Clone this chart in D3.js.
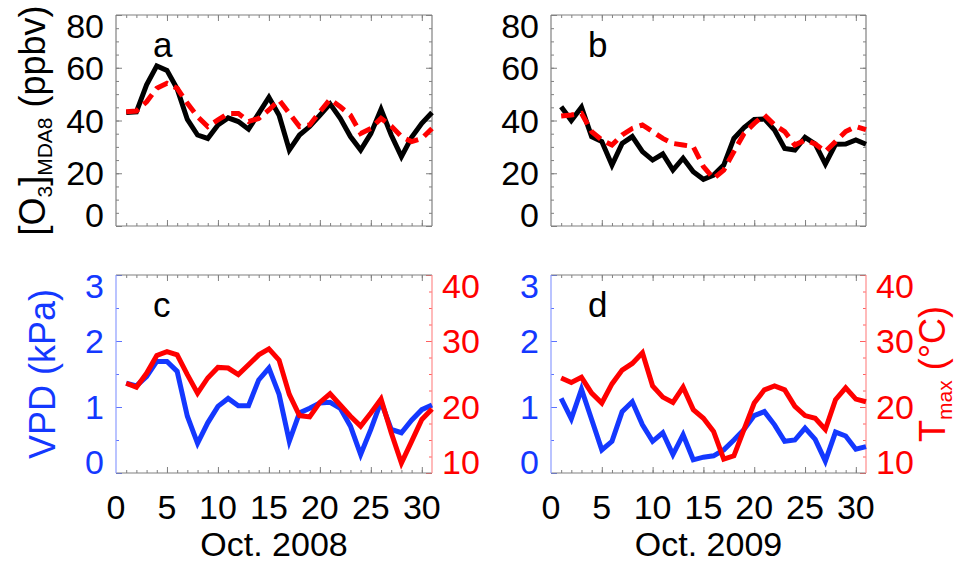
<!DOCTYPE html>
<html lang="en">
<head>
  <meta charset="UTF-8">
  <title>O3, VPD and Tmax in October</title>
  <style>
    body { margin: 0; background: #fff; }
    text { font-family: "Liberation Sans", Arial, Helvetica, sans-serif; }
  </style>
</head>
<body>
  <script src="https://d3js.org/d3.v7.min.js"></script>
  <script>
    const width = 959;
    const height = 567;

    // days of October
    const days = [1, 2, 3, 4, 5, 6, 7, 8, 9, 10, 11, 12, 13, 14, 15, 16,
                  17, 18, 19, 20, 21, 22, 23, 24, 25, 26, 27, 28, 29, 30, 31];

    // [O3] MDA8, black = observed, red dashed = second series
    const o3Obs2008 = [43, 43.3, 53.5, 60.7, 59, 52, 40.4, 34.5, 33.2, 38.3, 41, 39.6, 36.7, 42.7, 48.8, 42,
                       28.8, 34.5, 37.7, 42, 46.3, 40.8, 33.9, 28.8, 35, 44.2, 34.5, 26.3, 33.6, 38.9, 43];
    const o3Mod2008 = [43.3, 43.6, 47.1, 52.2, 54.1, 52.2, 46.5, 41.5, 37.7, 40.2, 42.7, 42.7, 39.6, 40.8, 44, 47.8,
                       42.7, 37.7, 38.3, 43.3, 48, 45.2, 42, 35.1, 37, 40.8, 37.9, 33.9, 32, 33.2, 37];
    const o3Obs2009 = [45.2, 40, 45, 33.9, 32, 23.1, 31.3, 33.9, 28.2, 25, 27.3, 21.2, 25.7, 20.6, 17.7, 19.3,
                       23.1, 33.2, 37.3, 40.4, 40.6, 36.4, 29.4, 28.8, 33.6, 31.1, 23.5, 31, 31.1, 32.6, 31];
    const o3Mod2009 = [41.7, 42.1, 42.7, 35.8, 32.6, 30.7, 34.5, 37, 38.3, 35.8, 33.2, 31.3, 30.7, 30.1, 22.5, 18,
                       21.2, 28.2, 35.1, 38.9, 42.1, 38.3, 35.8, 30.7, 32.6, 31.1, 28.2, 32, 35.8, 37.7, 36.5];

    // VPD (kPa) and Tmax (deg C)
    const vpd2008 = [1.36, 1.32, 1.46, 1.69, 1.69, 1.54, 0.86, 0.45, 0.76, 1.01, 1.13, 1.02, 1.02, 1.41, 1.59, 1.19,
                     0.48, 0.91, 0.98, 1.06, 1.07, 0.98, 0.71, 0.28, 0.66, 1.08, 0.66, 0.61, 0.8, 0.96, 1.03];
    const tmax2008 = [23.6, 23, 25.1, 27.8, 28.4, 27.9, 24.9, 22.1, 24.4, 26, 25.9, 24.9, 26.4, 27.9, 28.8, 27.1,
                      21.9, 18.7, 18.5, 20.7, 22, 20.3, 18.6, 17.1, 19.1, 21.2, 16.1, 11.5, 14.8, 18.1, 19.7];
    const vpd2009 = [1.13, 0.82, 1.27, 0.81, 0.35, 0.48, 0.93, 1.08, 0.73, 0.48, 0.61, 0.28, 0.58, 0.2, 0.24, 0.26,
                     0.35, 0.5, 0.66, 0.87, 0.93, 0.73, 0.48, 0.5, 0.68, 0.51, 0.18, 0.62, 0.56, 0.36, 0.4];
    const tmax2009 = [24.4, 23.7, 24.5, 22.1, 20.6, 23.5, 25.6, 26.6, 28.2, 23.2, 21.5, 20.7, 23, 19.6, 18.3, 16.3,
                      12.1, 12.6, 16.6, 20.6, 22.6, 23.2, 22.6, 20.1, 18.7, 18.3, 16.6, 21.1, 22.9, 21.2, 20.8];

    const dayTicks = [0, 5, 10, 15, 20, 25, 30];
    const o3Ticks = [0, 20, 40, 60, 80];
    const vpdTicks = [0, 1, 2, 3];
    const tmaxTicks = [10, 20, 30, 40];
    const panelLetters = ['a', 'b', 'c', 'd'];
    const monthLabels = ['Oct. 2008', 'Oct. 2009'];

    const blue = '#1438ff';
    const red = '#ff0000';
    const grey = '#808080';
    const fontSize = 34;
    const titleSize = 36;
    const subSize = 21;

    const cols = [[116, 432], [551, 866]];
    const topRow = [226, 15];   // [bottom, top]
    const botRow = [473, 275];

    const svg = d3.select('body')
                  .append('svg')
                  .attr('width', width)
                  .attr('height', height);

    const tickAxis = (axis, values, size, color, tx, ty) => {
      const g = svg.append('g')
                   .attr('transform', 'translate(' + tx + ',' + ty + ')')
                   .call(axis.tickValues(values).tickSize(-size).tickFormat(''));
      g.select('.domain').remove();
      g.selectAll('line').attr('stroke', color).attr('stroke-width', 1);
      g.selectAll('text').remove();
    }

    const frameLine = (x1, y1, x2, y2, color) => {
      svg.append('line')
          .attr('x1', x1).attr('y1', y1)
          .attr('x2', x2).attr('y2', y2)
          .attr('stroke', color)
          .attr('stroke-width', 1.2);
    }

    const drawLine = (x, y, values, color, dash) => {
      const line = d3.line()
                     .x((d, i) => x(days[i]))
                     .y(d => y(d));
      svg.append('path')
          .datum(values)
          .attr('d', line)
          .attr('fill', 'none')
          .attr('stroke', color)
          .attr('stroke-width', 5)
          .attr('stroke-linejoin', 'miter')
          .attr('stroke-dasharray', dash || null);
    }

    const yLabels = (y, values, xpos, anchor, color, top, bottom) => {
      svg.append('g')
          .selectAll('text')
          .data(values)
          .enter()
          .append('text')
          .attr('x', xpos)
          .attr('y', d => Math.min(Math.max(y(d), top + 11), bottom - 11))
          .attr('dy', '0.36em')
          .attr('text-anchor', anchor)
          .attr('font-size', fontSize)
          .attr('fill', color)
          .text(d => d);
    }

    const dayScale = (col) => d3.scaleLinear().domain([0, 31]).range(cols[col]);
    const minorDays = d3.range(1, 31);
    const majorDays = dayTicks.filter(d => d > 0);

    const dayTickMarks = (x, row) => {
      tickAxis(d3.axisBottom(x), minorDays, 3, grey, 0, row[0]);
      tickAxis(d3.axisBottom(x), majorDays, 6, grey, 0, row[0]);
      tickAxis(d3.axisTop(x), minorDays, 3, grey, 0, row[1]);
      tickAxis(d3.axisTop(x), majorDays, 6, grey, 0, row[1]);
    }

    // ozone panels
    const o3Panel = (col, obs, mod, letter) => {
      const x = dayScale(col);
      const y = d3.scaleLinear().domain([0, 80]).range(topRow);
      const [x0, x1] = cols[col];
      const [yb, yt] = topRow;

      dayTickMarks(x, topRow);
      tickAxis(d3.axisLeft(y), d3.range(0, 81, 5), 3, grey, x0, 0);
      tickAxis(d3.axisLeft(y), o3Ticks, 6, grey, x0, 0);
      tickAxis(d3.axisRight(y), d3.range(0, 81, 5), 3, grey, x1, 0);
      tickAxis(d3.axisRight(y), o3Ticks, 6, grey, x1, 0);

      frameLine(x0, yt, x1, yt, grey);
      frameLine(x0, yb, x1, yb, grey);
      frameLine(x0, yt, x0, yb, grey);
      frameLine(x1, yt, x1, yb, grey);

      drawLine(x, y, obs, '#000');
      drawLine(x, y, mod, red, '13,7');

      yLabels(y, o3Ticks, x0 - 12, 'end', '#000', yt, yb);

      svg.append('text')
          .attr('x', x0 + 37)
          .attr('y', yt + 42)
          .attr('font-size', fontSize + 1)
          .text(letter);
    }

    // meteorology panels
    const metPanel = (col, vpd, tmax, letter, month) => {
      const x = dayScale(col);
      const yV = d3.scaleLinear().domain([0, 3]).range(botRow);
      const yT = d3.scaleLinear().domain([10, 40]).range(botRow);
      const [x0, x1] = cols[col];
      const [yb, yt] = botRow;

      dayTickMarks(x, botRow);
      tickAxis(d3.axisLeft(yV), d3.range(0, 3.01, 0.5), 3, '#5b72ff', x0, 0);
      tickAxis(d3.axisLeft(yV), vpdTicks, 6, '#5b72ff', x0, 0);
      tickAxis(d3.axisRight(yT), d3.range(10, 40.1, 2.5), 3, '#ff6060', x1, 0);
      tickAxis(d3.axisRight(yT), tmaxTicks, 6, '#ff6060', x1, 0);

      frameLine(x0, yt, x1, yt, grey);
      frameLine(x0, yb, x1, yb, grey);
      frameLine(x0, yt, x0, yb, '#8c9cff');
      frameLine(x1, yt, x1, yb, '#ff8c8c');

      drawLine(x, yV, vpd, blue);
      drawLine(x, yT, tmax, red);

      yLabels(yV, vpdTicks, x0 - 12, 'end', blue, yt, yb);
      yLabels(yT, tmaxTicks, x1 + 10, 'start', red, yt, yb);

      svg.append('g')
          .selectAll('text')
          .data(dayTicks)
          .enter()
          .append('text')
          .attr('x', d => x(d))
          .attr('y', yb + 46)
          .attr('text-anchor', 'middle')
          .attr('font-size', fontSize)
          .text(d => d);

      svg.append('text')
          .attr('x', (x0 + x1) / 2)
          .attr('y', yb + 83)
          .attr('text-anchor', 'middle')
          .attr('font-size', fontSize)
          .text(month);

      svg.append('text')
          .attr('x', x0 + 37)
          .attr('y', yt + 42)
          .attr('font-size', fontSize + 1)
          .text(letter);
    }

    o3Panel(0, o3Obs2008, o3Mod2008, panelLetters[0]);
    o3Panel(1, o3Obs2009, o3Mod2009, panelLetters[1]);
    metPanel(0, vpd2008, tmax2008, panelLetters[2], monthLabels[0]);
    metPanel(1, vpd2009, tmax2009, panelLetters[3], monthLabels[1]);

    // axis titles
    const o3Title = svg.append('text')
                       .attr('transform', 'translate(45,' + (topRow[0] + topRow[1]) / 2 + ') rotate(-90)')
                       .attr('text-anchor', 'middle')
                       .attr('font-size', titleSize);
    o3Title.append('tspan').text('[O');
    o3Title.append('tspan').attr('font-size', subSize).attr('dy', 7).text('3');
    o3Title.append('tspan').attr('dy', -7).text(']');
    o3Title.append('tspan').attr('font-size', subSize).attr('dy', 7).text('MDA8');
    o3Title.append('tspan').attr('dy', -7).text(' (ppbv)');

    svg.append('text')
        .attr('transform', 'translate(55,' + (botRow[0] + botRow[1]) / 2 + ') rotate(-90)')
        .attr('text-anchor', 'middle')
        .attr('font-size', titleSize)
        .attr('fill', blue)
        .text('VPD (kPa)');

    const tTitle = svg.append('text')
                      .attr('transform', 'translate(945,' + (botRow[0] + botRow[1]) / 2 + ') rotate(-90)')
                      .attr('text-anchor', 'middle')
                      .attr('font-size', titleSize)
                      .attr('fill', red);
    tTitle.append('tspan').text('T');
    tTitle.append('tspan').attr('font-size', subSize).attr('dy', 7).text('max');
    tTitle.append('tspan').attr('dy', -7).text(' (°C)');
  </script>
</body>
</html>
